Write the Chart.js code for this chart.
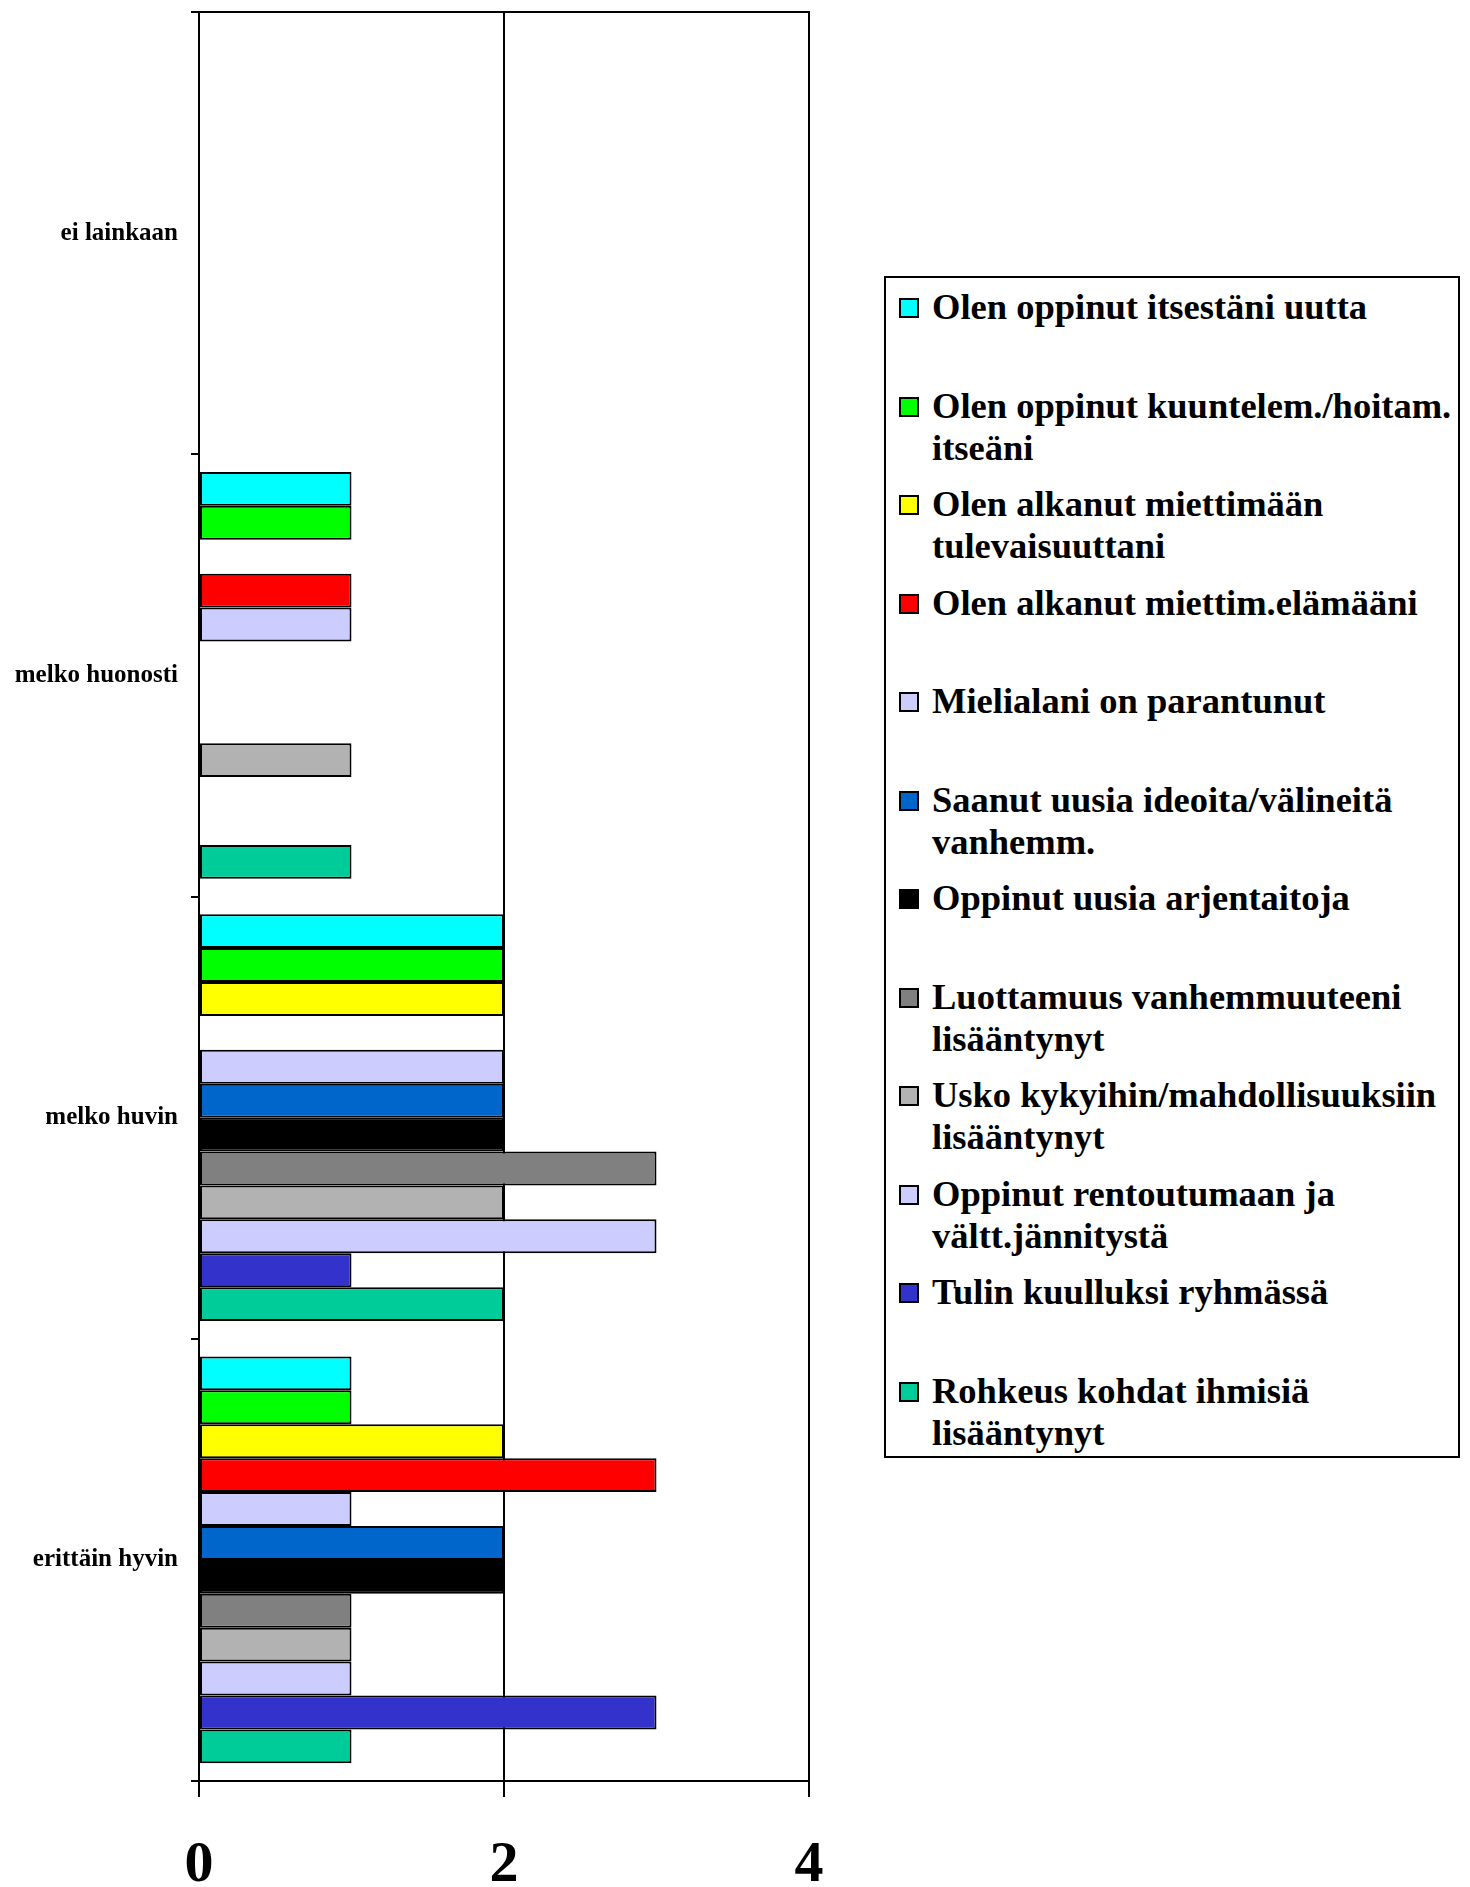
<!DOCTYPE html>
<html>
<head>
<meta charset="utf-8">
<script src="https://cdn.jsdelivr.net/npm/chart.js@4.4.1/dist/chart.umd.min.js"></script>
<style>
  html, body { margin: 0; padding: 0; background: #fff; }
  #wrap { position: relative; width: 1470px; height: 1887px; }
  #chartBox { position: absolute; left: 0; top: 0; width: 850px; height: 1887px; }
  #legend {
    position: absolute; left: 884px; top: 276px; width: 572px; height: 1178px;
    border: 2px solid #000; box-sizing: content-box;
    font-family: "Liberation Serif", "Times New Roman", serif; font-weight: bold;
    font-size: 36.5px; line-height: 42px; color: #000;
  }
  .item { position: absolute; left: 13px; white-space: nowrap; }
  .sw {
    position: absolute; left: 0; top: 12px; width: 16px; height: 16px;
    border: 2px solid #000;
  }
  .txt { position: absolute; left: 33px; top: 0; }
</style>
</head>
<body>
<div id="wrap">
  <div id="chartBox"><canvas id="chart"></canvas></div>
  <div id="legend"></div>
</div>
<script>
// ── Data ──
const categories = ["ei lainkaan", "melko huonosti", "melko huvin", "erittäin hyvin"];
const xTicks     = [0, 2, 4];

const seriesNames = [
  ["Olen oppinut itsestäni uutta"],
  ["Olen oppinut kuuntelem./hoitam.", "itseäni"],
  ["Olen alkanut miettimään", "tulevaisuuttani"],
  ["Olen alkanut miettim.elämääni"],
  ["Mielialani on parantunut"],
  ["Saanut uusia ideoita/välineitä", "vanhemm."],
  ["Oppinut uusia arjentaitoja"],
  ["Luottamuus vanhemmuuteeni", "lisääntynyt"],
  ["Usko kykyihin/mahdollisuuksiin", "lisääntynyt"],
  ["Oppinut rentoutumaan ja", "vältt.jännitystä"],
  ["Tulin kuulluksi ryhmässä"],
  ["Rohkeus kohdat ihmisiä", "lisääntynyt"]
];
const seriesColors = [
  "#00FFFF", "#00FF00", "#FFFF00", "#FF0000", "#CCCCFF", "#0066CC",
  "#000000", "#808080", "#B2B2B2", "#CCCCFF", "#3333CC", "#00CC99"
];
// values per series: [ei lainkaan, melko huonosti, melko huvin, erittäin hyvin]
const s1  = [0, 1, 2, 1];
const s2  = [0, 1, 2, 1];
const s3  = [0, 0, 2, 2];
const s4  = [0, 1, 0, 3];
const s5  = [0, 1, 2, 1];
const s6  = [0, 0, 2, 2];
const s7  = [0, 0, 2, 2];
const s8  = [0, 0, 3, 1];
const s9  = [0, 1, 2, 1];
const s10 = [0, 0, 3, 1];
const s11 = [0, 0, 1, 3];
const s12 = [0, 1, 2, 1];
const seriesValues = [s1, s2, s3, s4, s5, s6, s7, s8, s9, s10, s11, s12];

const FONT = "'Liberation Serif', 'Times New Roman', serif";

// ── frame around plot area ──
const framePlugin = {
  id: "frame",
  afterDraw(chart) {
    const { ctx, chartArea: a } = chart;
    ctx.save();
    ctx.strokeStyle = "#000";
    ctx.lineWidth = 2;
    ctx.strokeRect(a.left, a.top, a.right - a.left, a.bottom - a.top);
    ctx.restore();
  }
};

new Chart(document.getElementById("chart"), {
  type: "bar",
  data: {
    labels: categories,
    datasets: seriesValues.map((vals, i) => ({
      label: seriesNames[i].join(" "),
      data: vals,
      backgroundColor: seriesColors[i],
      borderColor: "#000",
      borderWidth: c => (c.raw ? 2 : 0),
      borderSkipped: false,
      categoryPercentage: 0.92,
      barPercentage: 1.0
    }))
  },
  options: {
    indexAxis: "y",
    responsive: true,
    maintainAspectRatio: false,
    animation: false,
    layout: { padding: { top: 12, right: 41, left: 0, bottom: 0 } },
    plugins: { legend: { display: false }, tooltip: { enabled: false } },
    scales: {
      x: {
        min: 0, max: 4,
        afterBuildTicks: s => { s.ticks = xTicks.map(v => ({ value: v })); },
        afterFit: s => { s.height = 106; s.paddingLeft = 0; s.paddingRight = 0; },
        grid: { color: "#000", lineWidth: 2, tickLength: 16, drawOnChartArea: true },
        border: { display: true, color: "#000", width: 2 },
        ticks: { color: "#000", padding: 34, font: { family: FONT, size: 58, weight: "bold" } }
      },
      y: {
        afterFit: s => { s.width = 199; s.paddingTop = 0; s.paddingBottom = 0; },
        grid: { offset: true, drawOnChartArea: false, color: "#000", lineWidth: 2, tickLength: 8 },
        border: { display: true, color: "#000", width: 2 },
        ticks: { color: "#000", padding: 13, font: { family: FONT, size: 25, weight: "bold" } }
      }
    }
  },
  plugins: [framePlugin]
});

// ── Legend ──
const legend = document.getElementById("legend");
seriesNames.forEach((lines, i) => {
  const item = document.createElement("div");
  item.className = "item";
  item.style.top = (8 + i * 98.5) + "px";
  const sw = document.createElement("div");
  sw.className = "sw";
  sw.style.background = seriesColors[i];
  const txt = document.createElement("div");
  txt.className = "txt";
  txt.innerHTML = lines.join("<br>");
  item.appendChild(sw);
  item.appendChild(txt);
  legend.appendChild(item);
});
</script>
</body>
</html>
